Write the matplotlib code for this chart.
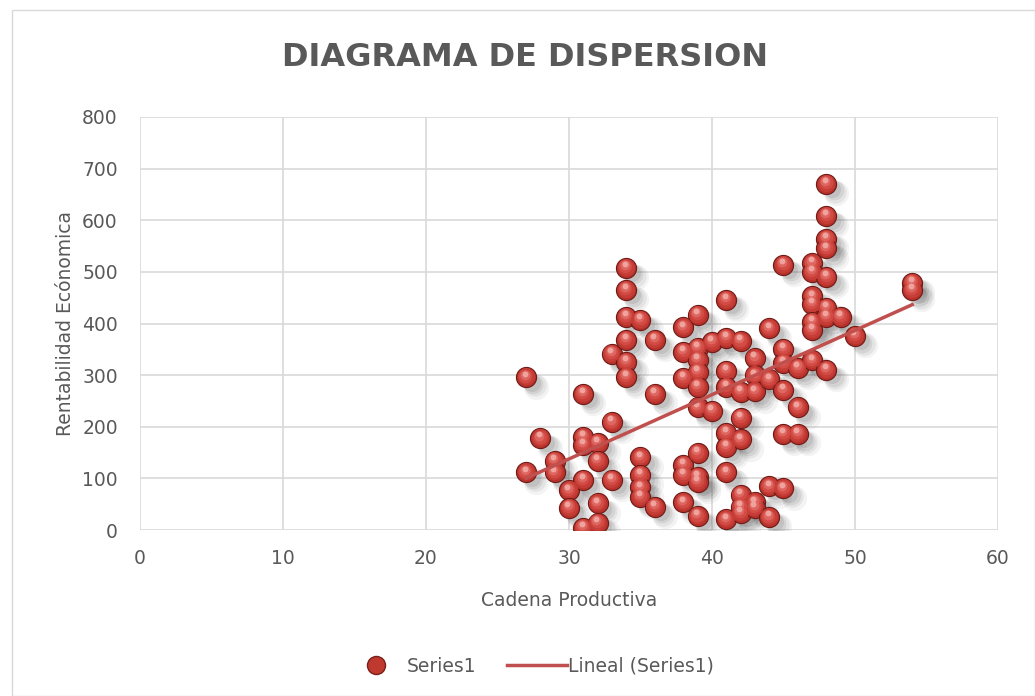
import numpy as np
import matplotlib.pyplot as plt
from matplotlib.patches import Rectangle
from matplotlib.lines import Line2D

# Datos
cadena = [27, 27, 28, 29, 29, 30, 30,
          31, 31, 31, 31, 31, 32, 32, 32, 32, 33, 33, 33,
          34, 34, 34, 34, 34, 34, 35, 35, 35, 35, 35, 36, 36, 36,
          38, 38, 38, 38, 38, 38,
          39, 39, 39, 39, 39, 39, 39, 39, 39, 39,
          40, 40,
          41, 41, 41, 41, 41, 41, 41, 41,
          42, 42, 42, 42, 42, 42, 42,
          43, 43, 43, 43, 43,
          44, 44, 44, 44,
          45, 45, 45, 45, 45, 45,
          46, 46, 46,
          47, 47, 47, 47, 47, 47, 47,
          48, 48, 48, 48, 48, 48, 48, 48,
          49, 50, 54, 54]
rentabilidad = [296, 112, 178, 134, 112, 77, 43,
                264, 180, 165, 97, 4, 169, 134, 52, 14, 341, 209, 97,
                508, 465, 413, 368, 326, 297, 407, 141, 107, 83, 64, 368, 264, 45,
                393, 345, 295, 126, 107, 54,
                417, 353, 330, 306, 277, 238, 149, 103, 93, 27,
                365, 231,
                446, 372, 308, 277, 188, 161, 112, 21,
                366, 268, 217, 176, 68, 45, 33,
                333, 300, 269, 54, 43,
                391, 292, 85, 25,
                514, 351, 324, 271, 186, 81,
                314, 238, 186,
                517, 500, 453, 438, 403, 388, 329,
                671, 609, 564, 546, 490, 430, 413, 310,
                413, 376, 479, 465]

x = np.array(cadena, dtype=float)
y = np.array(rentabilidad, dtype=float)

gris = '#595959'
rojo = '#C0504D'

fig = plt.figure(figsize=(10.35, 6.96), dpi=100)
ax = fig.add_axes([140/1035, 1-530/696, (998-140)/1035, (530-117)/696])

# Sombras de las esferas
for off, a, s in [(0.7, 0.06, 330), (0.6, 0.08, 260), (0.5, 0.10, 200), (0.4, 0.12, 150)]:
    ax.scatter(x + off, y - off*26, s=s, color='#404040', alpha=a,
               linewidths=0, zorder=2)

# Esferas (capas para simular el brillo)
ax.scatter(x, y, s=210, color='#B8322C', edgecolors='#6E1B17',
           linewidths=0.8, zorder=3)
capas = [(150, '#C63D37', 0.03, 1.5), (95, '#D24C45', 0.06, 3),
         (50, '#DE6660', 0.09, 5), (18, '#F0A29C', 0.11, 7)]
for k, (s, c, dx, dy) in enumerate(capas):
    ax.scatter(x - dx, y + dy, s=s, color=c, linewidths=0, zorder=3.1 + k*0.1)

# Linea de tendencia
m, b = np.polyfit(x, y, 1)
xl = np.array([x.min(), x.max()])
ax.plot(xl, m*xl + b, color=rojo, linewidth=2.5, zorder=5)

ax.set_xlim(0, 60)
ax.set_ylim(0, 800)
ax.set_xticks(range(0, 61, 10))
ax.set_yticks(range(0, 801, 100))
ax.grid(True, color='#D9D9D9', linewidth=1.2)
ax.set_axisbelow(True)
for s in ax.spines.values():
    s.set_visible(False)
ax.tick_params(length=0, labelsize=13.5, colors=gris)
ax.tick_params(axis='x', pad=14)
ax.tick_params(axis='y', pad=16)
ax.set_xlabel('Cadena Productiva', fontsize=13.5, color=gris, labelpad=16)
ax.set_ylabel('Rentabilidad Ecónomica', fontsize=13.5, color=gris, labelpad=5)

fig.text(525/1035, 1-58/696, 'DIAGRAMA DE DISPERSION', ha='center', va='center',
         fontsize=23, fontweight='bold', color=gris)

# Leyenda
handles = [Line2D([], [], marker='o', linestyle='', markersize=13,
                  markerfacecolor='#C0392F', markeredgecolor='#7A1E1A'),
           Line2D([], [], color=rojo, linewidth=2.5)]
fig.legend(handles, ['Series1', 'Lineal (Series1)'], loc='center',
           bbox_to_anchor=(530/1035, 1-666/696), ncol=2, frameon=False,
           fontsize=13.5, labelcolor=gris, handlelength=3.2, handletextpad=0.05,
           columnspacing=1.6)

fig.patches.append(Rectangle((12/1035, 0), 1-12/1035, 1-10/696, transform=fig.transFigure,
                             fill=False, edgecolor='#D9D9D9', linewidth=1))

fig.savefig('out.png', dpi=100, facecolor='white')
